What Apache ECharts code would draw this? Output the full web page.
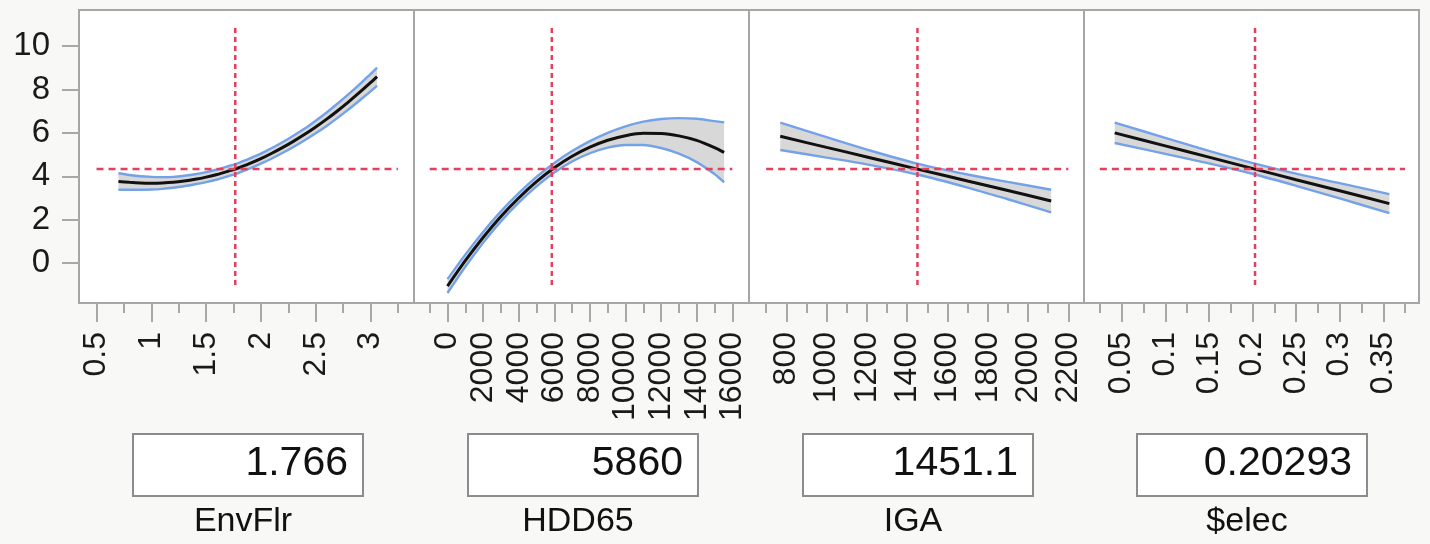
<!DOCTYPE html>
<html>
<head>
<meta charset="utf-8">
<title>Prediction profiler</title>
<script src="https://cdn.jsdelivr.net/npm/echarts@6/dist/echarts.min.js"></script>
<style>
  html, body { margin: 0; padding: 0; background: #f8f8f6; }
  #chart { width: 1430px; height: 544px; }
</style>
</head>
<body>
<div id="chart"></div>
<script>
// factors and their current settings
const factorNames = ["EnvFlr", "HDD65", "IGA", "$elec"];
const currentValues = [1.766, 5860, 1451.1, 0.20293];
const currentLabels = ["1.766", "5860", "1451.1", "0.20293"];
const predicted = 4.33;

// EnvFlr profile (fit + confidence band)
const envX = [0.70, 0.80, 0.90, 1.00, 1.10, 1.20, 1.30, 1.40, 1.50, 1.60, 1.70, 1.80, 1.90, 2.00, 2.10, 2.20, 2.30, 2.40, 2.50, 2.60, 2.70, 2.80, 2.90, 3.00, 3.06];
const envFit = [3.76, 3.72, 3.69, 3.68, 3.69, 3.72, 3.78, 3.86, 3.96, 4.08, 4.23, 4.39, 4.59, 4.81, 5.06, 5.33, 5.62, 5.93, 6.27, 6.63, 7.02, 7.43, 7.86, 8.31, 8.59];
const envLo = [3.38, 3.38, 3.38, 3.39, 3.42, 3.47, 3.54, 3.63, 3.73, 3.85, 4.00, 4.16, 4.36, 4.58, 4.82, 5.08, 5.36, 5.66, 5.98, 6.32, 6.69, 7.08, 7.49, 7.91, 8.18];
const envHi = [4.14, 4.06, 4.00, 3.97, 3.96, 3.97, 4.02, 4.09, 4.19, 4.31, 4.46, 4.62, 4.82, 5.04, 5.30, 5.58, 5.88, 6.20, 6.56, 6.94, 7.35, 7.78, 8.23, 8.71, 9.00];

// HDD65 profile
const hddX = [0, 1000, 2000, 3000, 4000, 5000, 6000, 7000, 8000, 9000, 10000, 11000, 12000, 13000, 14000, 15000, 15540];
const hddFit = [-1.06, 0.11, 1.18, 2.15, 3.00, 3.75, 4.39, 4.92, 5.34, 5.66, 5.87, 5.98, 5.97, 5.86, 5.65, 5.32, 5.10];
const hddLo = [-1.38, -0.17, 0.93, 1.92, 2.78, 3.53, 4.17, 4.68, 5.06, 5.32, 5.44, 5.44, 5.30, 5.04, 4.65, 4.10, 3.72];
const hddHi = [-0.74, 0.39, 1.43, 2.38, 3.22, 3.97, 4.61, 5.16, 5.62, 6.00, 6.30, 6.52, 6.64, 6.68, 6.65, 6.54, 6.48];

// IGA profile
const igaX = [770, 1000, 1200, 1451, 1700, 1900, 2115];
const igaFit = [5.84, 5.33, 4.89, 4.33, 3.78, 3.34, 2.86];
const igaLo = [5.21, 4.86, 4.55, 4.08, 3.48, 2.94, 2.34];
const igaHi = [6.47, 5.80, 5.23, 4.58, 4.08, 3.74, 3.38];

// $elec profile
const elecX = [0.042, 0.10, 0.15, 0.2029, 0.25, 0.30, 0.357];
const elecFit = [6.00, 5.40, 4.88, 4.33, 3.84, 3.33, 2.74];
const elecLo = [5.53, 5.03, 4.59, 4.08, 3.56, 2.98, 2.30];
const elecHi = [6.47, 5.77, 5.17, 4.58, 4.12, 3.68, 3.18];

// tick values
const yTicks = [0, 2, 4, 6, 8, 10];
const envTicks = [0.5, 1, 1.5, 2, 2.5, 3];
const envMinor = [0.75, 1.25, 1.75, 2.25, 2.75, 3.25];
const hddTicks = [0, 2000, 4000, 6000, 8000, 10000, 12000, 14000, 16000];
const hddMinor = [-1000, 1000, 3000, 5000, 7000, 9000, 11000, 13000, 15000];
const igaTicks = [800, 1000, 1200, 1400, 1600, 1800, 2000, 2200];
const igaMinor = [700, 900, 1100, 1300, 1500, 1700, 1900, 2100];
const elecTicks = [0.05, 0.1, 0.15, 0.2, 0.25, 0.3, 0.35];
const elecMinor = [0.025, 0.075, 0.125, 0.175, 0.225, 0.275, 0.325, 0.375];

// red reference line extents
const hLineFrom = [0.5, -1000, 700, 0.025];
const hLineTo = [3.25, 16000, 2200, 0.375];
const vLineRange = [-1.01, 10.83];

const panels = [
  { x: envX, fit: envFit, lo: envLo, hi: envHi, ticks: envTicks, minor: envMinor, min: 0.34, max: 3.397 },
  { x: hddX, fit: hddFit, lo: hddLo, hi: hddHi, ticks: hddTicks, minor: hddMinor, min: -1882, max: 16938 },
  { x: igaX, fit: igaFit, lo: igaLo, hi: igaHi, ticks: igaTicks, minor: igaMinor, min: 614.8, max: 2278 },
  { x: elecX, fit: elecFit, lo: elecLo, hi: elecHi, ticks: elecTicks, minor: elecMinor, min: 0.0068, max: 0.391 }
];

const FONT = "'Liberation Sans', Arial, Helvetica, sans-serif";
const RED = "#e4405e";
const BLUE = "#74a2e8";
const TICK = "#a8a8a8";
const gridLefts = [79, 414, 749, 1084];
const boxLefts = [132, 467, 802, 1136];

const grids = [], xAxes = [], yAxes = [], series = [];

panels.forEach((p, i) => {
  grids.push({
    left: gridLefts[i], top: 10, width: 335, height: 293,
    show: true, backgroundColor: "#ffffff", borderColor: "#a6a6a6", borderWidth: 2
  });
  // major ticks + labels
  xAxes.push({
    type: "value", gridIndex: i, min: p.min, max: p.max, position: "bottom",
    axisLine: { show: false, onZero: false }, splitLine: { show: false },
    axisTick: { show: true, length: 19, customValues: p.ticks, lineStyle: { color: TICK, width: 2 } },
    axisLabel: {
      customValues: p.ticks, rotate: 90, margin: 29, fontSize: 32, color: "#1a1a1a",
      fontFamily: FONT, formatter: (v) => String(v)
    }
  });
  // minor ticks
  xAxes.push({
    type: "value", gridIndex: i, min: p.min, max: p.max, position: "bottom",
    axisLine: { show: false, onZero: false }, splitLine: { show: false }, axisLabel: { show: false },
    axisTick: { show: true, length: 10, customValues: p.minor, lineStyle: { color: TICK, width: 2 } }
  });
  yAxes.push({
    type: "value", gridIndex: i, min: -1.84, max: 11.66, show: i === 0,
    axisLine: { show: false, onZero: false }, splitLine: { show: false },
    axisTick: { show: i === 0, length: 17, customValues: yTicks, lineStyle: { color: TICK, width: 2 } },
    axisLabel: { show: i === 0, customValues: yTicks, margin: 29, fontSize: 33, color: "#1a1a1a", fontFamily: FONT }
  });

  const xi = i * 2;
  // confidence band fill
  series.push({
    type: "custom", xAxisIndex: xi, yAxisIndex: i, silent: true, z: 1,
    data: [[p.x[0], p.fit[0]]],
    renderItem: (params, api) => {
      const pts = [];
      p.x.forEach((x, k) => pts.push(api.coord([x, p.hi[k]])));
      for (let k = p.x.length - 1; k >= 0; k--) pts.push(api.coord([p.x[k], p.lo[k]]));
      return { type: "polygon", shape: { points: pts }, style: { fill: "#d8d8d8" } };
    }
  });
  const curve = (vals, color, width, z) => ({
    type: "line", xAxisIndex: xi, yAxisIndex: i, symbol: "none", smooth: 0.3, z: z, silent: true,
    data: p.x.map((x, k) => [x, vals[k]]),
    lineStyle: { color: color, width: width }
  });
  series.push(curve(p.lo, BLUE, 2.4, 2));
  series.push(curve(p.hi, BLUE, 2.4, 2));
  series.push(curve(p.fit, "#111111", 3, 3));
  // red dashed reference lines
  series.push({
    type: "line", xAxisIndex: xi, yAxisIndex: i, symbol: "none", z: 4, silent: true,
    data: [[hLineFrom[i], predicted], [hLineTo[i], predicted]],
    lineStyle: { color: RED, width: 2.5, type: [7, 5] }
  });
  series.push({
    type: "line", xAxisIndex: xi, yAxisIndex: i, symbol: "none", z: 4, silent: true,
    data: [[currentValues[i], vLineRange[0]], [currentValues[i], vLineRange[1]]],
    lineStyle: { color: RED, width: 2.5, type: [5, 4] }
  });
});

// value boxes and factor names under each panel
const graphics = [];
factorNames.forEach((name, i) => {
  const bx = boxLefts[i];
  graphics.push({
    type: "rect", left: bx, top: 433, shape: { width: 230, height: 62 },
    style: { fill: "#ffffff", stroke: "#8c8c8c", lineWidth: 2 }
  });
  graphics.push({
    type: "text", x: bx + 216, y: 464,
    style: { text: currentLabels[i], fontSize: 41, fontFamily: FONT, fill: "#111", align: "right", verticalAlign: "middle" }
  });
  graphics.push({
    type: "text", x: bx + 111, y: 522,
    style: { text: name, fontSize: 34, fontFamily: FONT, fill: "#111", align: "center", verticalAlign: "middle" }
  });
});

const myChart = echarts.init(document.getElementById("chart"));
myChart.setOption({
  animation: false,
  backgroundColor: "#f8f8f6",
  grid: grids,
  xAxis: xAxes,
  yAxis: yAxes,
  series: series,
  graphic: graphics
});
</script>
</body>
</html>
